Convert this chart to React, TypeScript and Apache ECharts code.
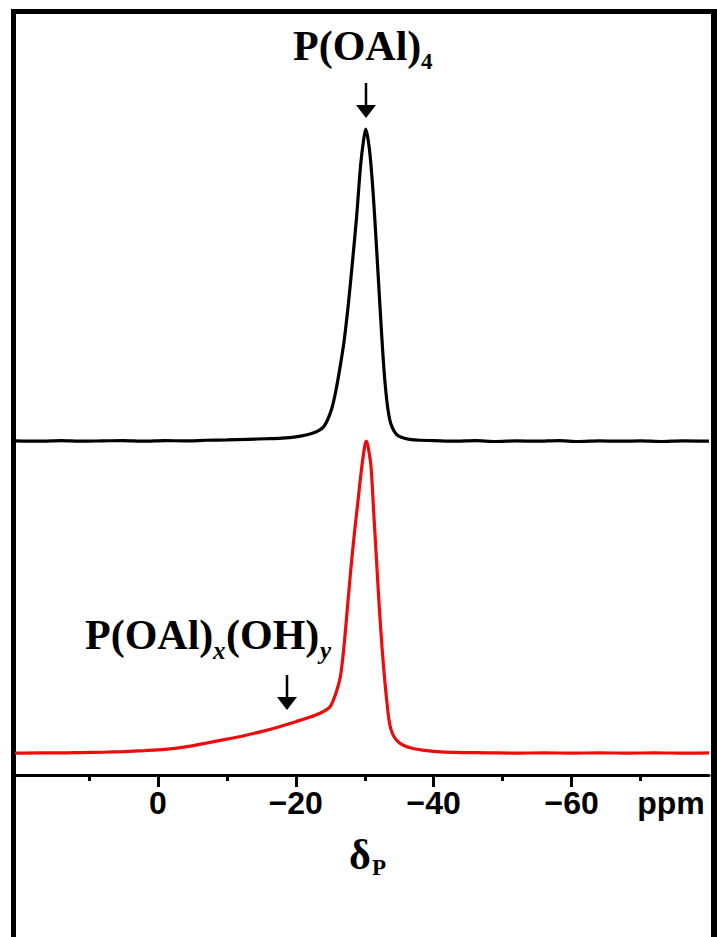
import React, { useEffect, useRef } from "react";
import * as echarts from "echarts";

// Chemical shift (ppm) and normalised intensity of the two 31P spectra
const blackPpm = [20.7, 17, 14, 11, 8, 5, 2, -1, -4, -7, -10, -13, -16, -18, -20, -21.5, -22.5, -23.3, -24, -24.6, -25.2, -25.8, -26.4, -27, -27.6, -28.2, -28.8, -29.4, -29.8, -30.15, -30.5, -30.8, -31.2, -31.6, -32.0, -32.4, -32.8, -33.2, -33.6, -34.0, -34.6, -35.3, -36.5, -38, -40, -43, -46, -49, -52, -55, -58, -61, -64, -67, -70, -73, -76, -79.9];
const blackInt = [0.1, 0.0, 0.2, 0.0, 0.1, 0.2, 0.0, 0.2, 0.1, 0.3, 0.4, 0.6, 0.8, 1.0, 1.4, 2.0, 2.6, 3.4, 4.5, 6.8, 10.3, 16, 23.5, 32, 43.5, 57, 71.5, 88.5, 96, 100, 96.5, 91, 80, 66, 51, 36, 22.5, 13, 7.1, 4.3, 2.2, 1.3, 0.6, 0.3, 0.2, 0.0, 0.2, -0.1, 0.1, 0.0, 0.2, -0.1, 0.1, 0.0, 0.1, -0.1, 0.1, 0.0];

const redPpm = [20.7, 17, 14, 11, 8, 5, 2, -1, -4, -7, -10, -12.5, -15, -17.5, -20, -22, -23.5, -24.9, -25.5, -26, -26.5, -27, -27.5, -28, -28.5, -29, -29.5, -30, -30.25, -30.5, -30.9, -31.3, -31.7, -32.1, -32.5, -32.9, -33.3, -33.6, -34.0, -34.6, -35.5, -37, -39, -41, -44, -48, -52, -56, -60, -64, -68, -72, -76, -79.9];
const redInt = [0, 0.1, 0.1, 0.2, 0.3, 0.5, 0.8, 1.2, 2.0, 3.2, 4.5, 5.6, 6.9, 8.4, 10.1, 11.5, 12.8, 14.7, 17.3, 20.5, 25, 34.5, 47, 59.5, 70.5, 80.5, 90.5, 98.5, 100, 98, 92, 77, 62, 47, 34, 23.3, 14.5, 9.5, 6.3, 4.2, 2.6, 1.5, 0.8, 0.4, 0.2, 0.1, 0.0, 0.1, 0.0, 0.1, 0.0, 0.1, 0.0, 0.1];

const blackOffset = 100; // vertical stacking offset of the upper spectrum
const majorTicks = [0, -20, -40, -60];
const minorTicks = [10, -10, -30, -50, -70];
const xMin = -79.9;
const xMax = 20.7;

const fmt = (v: number) => (v === 0 ? "0" : (v < 0 ? "\u2212" : "") + Math.abs(v));

export default function App() {
  const ref = useRef<HTMLDivElement>(null);
  useEffect(() => {
    if (!ref.current) return;
    const chart = echarts.init(ref.current, null, { renderer: "svg" });
    const serif = "'Liberation Serif', 'Times New Roman', serif";
    const sans = "'Liberation Sans', Arial, sans-serif";
    const blackData = blackPpm.map((p, i) => [p, blackInt[i] + blackOffset]);
    const redData = redPpm.map((p, i) => [p, redInt[i]]);
    chart.setOption({
      animation: false,
      backgroundColor: "#ffffff",
      grid: { left: 15, right: 8, top: 40, bottom: 162 },
      xAxis: [
        {
          type: "value",
          inverse: true,
          min: xMin,
          max: xMax,
          splitLine: { show: false },
          axisLine: { show: true, onZero: false, lineStyle: { color: "#000", width: 3 } },
          axisTick: { show: true, customValues: majorTicks, length: 12, lineStyle: { color: "#000", width: 3 } },
          axisLabel: {
            customValues: majorTicks,
            formatter: fmt,
            fontFamily: sans,
            fontWeight: "bold",
            fontSize: 32,
            color: "#000",
            margin: 12,
          },
        },
        {
          type: "value",
          inverse: true,
          position: "bottom",
          min: xMin,
          max: xMax,
          splitLine: { show: false },
          axisLine: { show: false, onZero: false },
          axisTick: { show: true, customValues: minorTicks, length: 6, lineStyle: { color: "#000", width: 3 } },
          axisLabel: { show: false },
        },
      ],
      yAxis: { type: "value", min: -7, max: 228.6, show: false },
      series: [
        {
          type: "line",
          xAxisIndex: 0,
          data: blackData,
          showSymbol: false,
          smooth: 0.3,
          lineStyle: { color: "#000", width: 3.2 },
        },
        {
          type: "line",
          xAxisIndex: 0,
          data: redData,
          showSymbol: false,
          smooth: 0.3,
          lineStyle: { color: "#ec0c0c", width: 3.2 },
        },
      ],
      graphic: [
        { type: "rect", shape: { x: 11, y: 9, width: 5, height: 928 }, style: { fill: "#000" } },
        { type: "rect", shape: { x: 11, y: 9, width: 706, height: 5 }, style: { fill: "#000" } },
        { type: "rect", shape: { x: 711, y: 9, width: 6, height: 928 }, style: { fill: "#000" } },
        // label 1
        { type: "text", x: 293, y: 46, style: { text: "P(OAl)", font: `bold 42px ${serif}`, fill: "#000", verticalAlign: "middle", align: "left" } },
        { type: "text", x: 421, y: 61, style: { text: "4", font: `bold 23px ${serif}`, fill: "#000", verticalAlign: "middle", align: "left" } },
        { type: "line", shape: { x1: 366, y1: 83, x2: 366, y2: 106 }, style: { stroke: "#000", lineWidth: 2.5 } },
        { type: "polygon", shape: { points: [[356, 105], [376, 105], [366, 118]] }, style: { fill: "#000" } },
        // label 2
        { type: "text", x: 85, y: 635, style: { text: "P(OAl)", font: `bold 42px ${serif}`, fill: "#000", verticalAlign: "middle", align: "left" } },
        { type: "text", x: 213, y: 650, style: { text: "x", font: `italic bold 25px ${serif}`, fill: "#000", verticalAlign: "middle", align: "left" } },
        { type: "text", x: 226, y: 635, style: { text: "(OH)", font: `bold 42px ${serif}`, fill: "#000", verticalAlign: "middle", align: "left" } },
        { type: "text", x: 320, y: 650, style: { text: "y", font: `italic bold 25px ${serif}`, fill: "#000", verticalAlign: "middle", align: "left" } },
        { type: "line", shape: { x1: 287, y1: 675, x2: 287, y2: 698 }, style: { stroke: "#000", lineWidth: 2.5 } },
        { type: "polygon", shape: { points: [[277, 697], [297, 697], [287, 710]] }, style: { fill: "#000" } },
        // ppm unit
        { type: "text", x: 671, y: 803, style: { text: "ppm", font: `bold 32px ${sans}`, fill: "#000", verticalAlign: "middle", align: "center" } },
        // axis title delta_P
        { type: "text", x: 349, y: 855, style: { text: "\u03b4", font: `bold 42px ${serif}`, fill: "#000", verticalAlign: "middle", align: "left" } },
        { type: "text", x: 372, y: 867, style: { text: "P", font: `bold 23px ${serif}`, fill: "#000", verticalAlign: "middle", align: "left" } },
      ],
    });
    return () => chart.dispose();
  }, []);
  return (
    <div
      ref={ref}
      style={{ position: "absolute", left: 0, top: 0, width: 717, height: 937, background: "#fff" }}
    />
  );
}
